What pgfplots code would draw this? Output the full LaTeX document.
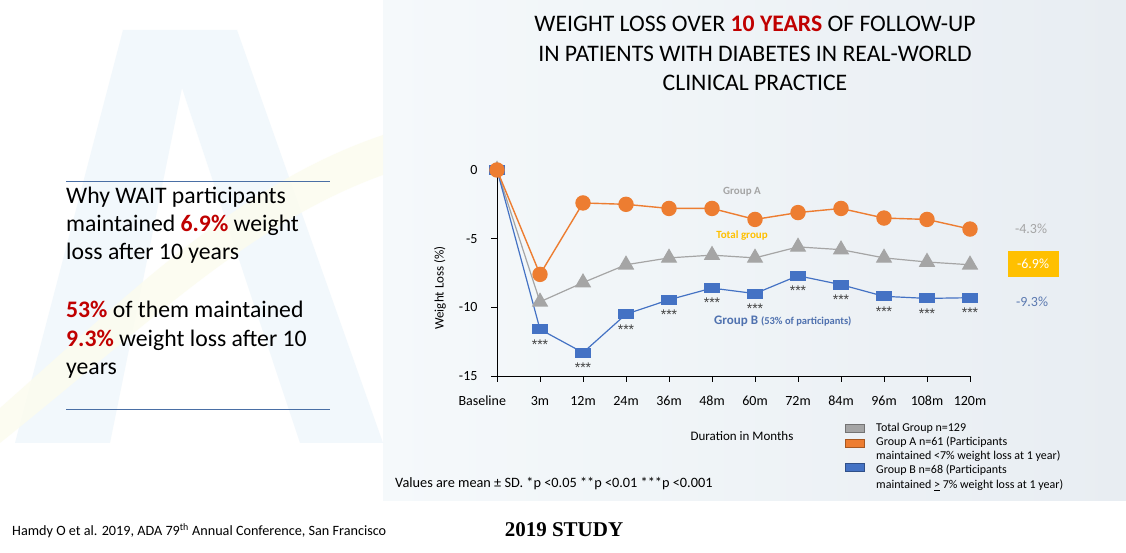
\documentclass[border=0pt]{standalone}
\usepackage{pgfplots}
\pgfplotsset{compat=1.18}
\usepackage{fontspec}
\setmainfont{Carlito}
\newfontfamily\studyfont{Liberation Serif}
\newfontfamily\astfont{Liberation Sans}
\definecolor{orA}{HTML}{ED7D31}
\definecolor{grT}{HTML}{A5A5A5}
\definecolor{blB}{HTML}{4472C4}
\definecolor{redT}{HTML}{C00000}
\definecolor{goldT}{HTML}{FFC000}
\definecolor{lineL}{HTML}{4A6FA5}
\definecolor{grpB}{HTML}{4F71AF}
\definecolor{lblB}{HTML}{5B79B0}
\definecolor{panelL}{HTML}{F5F9FB}
\definecolor{panelR}{HTML}{E8EDF2}
\definecolor{logoB}{HTML}{F2F8FC}
\definecolor{logoY}{HTML}{FCFCEE}
\begin{document}
\begin{tikzpicture}[x=1pt,y=1pt]
\fill[white] (0,0) rectangle (1126,553);
\useasboundingbox (0,0) rectangle (1126,553);
% background panel
\shade[left color=panelL, right color=panelR] (383,52) rectangle (1126,553);
% faint logo
\fill[logoB] (15,110) -- (123,523) -- (237,523) -- (383,110) -- (300,110) -- (182,465) -- (110,110) -- cycle;
\fill[logoY, opacity=0.8] (0,110) .. controls (150,230) and (250,330) .. (383,378) -- (383,418) .. controls (240,370) and (130,260) .. (0,145) -- cycle;
% left text
\draw[lineL, line width=0.8pt] (66,372) -- (330,372);
\draw[lineL, line width=0.8pt] (66,144) -- (330,144);
\begin{scope}[every node/.style={anchor=base west, inner sep=0pt, font=\fontsize{23.7}{28}\selectfont}]
\node at (66,349) {Why WAIT participants};
\node at (66,321) {maintained \textcolor{redT}{\textbf{6.9\%}} weight};
\node at (66,293) {loss after 10 years};
\node at (66,235) {\textcolor{redT}{\textbf{53\%}} of them maintained};
\node at (66,206) {\textcolor{redT}{\textbf{9.3\%}} weight loss after 10};
\node at (66,178) {years};
\end{scope}
% title
\begin{scope}[every node/.style={inner sep=0pt, font=\fontsize{23.7}{28}\selectfont}]
\node at (755,529) {WEIGHT LOSS OVER \textcolor{redT}{\textbf{10 YEARS}} OF FOLLOW-UP};
\node at (755,499) {IN PATIENTS WITH DIABETES IN REAL-WORLD};
\node at (755,470) {CLINICAL PRACTICE};
\end{scope}
\begin{axis}[
 at={(497pt,177pt)}, anchor=south west, scale only axis, width=473pt, height=206pt,
 xmin=0, xmax=11, ymin=-15, ymax=0, clip=false,
 axis x line*=bottom, axis y line*=left,
 axis line style={black, line width=0.8pt},
 xtick={0,...,11},
 xticklabels={\makebox[77pt][l]{Baseline},3m,12m,24m,36m,48m,60m,72m,84m,96m,108m,120m},
 ytick={-15,-10,-5,0}, yticklabels={-15,-10,-5,0},
 tick align=outside, major tick length=6pt, tick style={black, line width=0.8pt},
 ticklabel style={font=\fontsize{14}{16}\selectfont},
 xticklabel style={text height=10pt, text depth=3pt, yshift=-10pt},
 yticklabel style={xshift=-10pt},
]
\addplot[grT, line width=1.2pt, mark=triangle*, mark size=8.3pt, mark options={fill=grT, draw=grT}]
 coordinates {(0,0) (1,-9.6) (2,-8.2) (3,-6.9) (4,-6.4) (5,-6.2) (6,-6.4) (7,-5.6) (8,-5.8) (9,-6.4) (10,-6.7) (11,-6.9)};
\addplot[blB, line width=1.2pt, mark=square*, mark size=7.2pt, mark options={fill=blB, draw=blB, yscale=0.62}]
 coordinates {(0,0) (1,-11.6) (2,-13.3) (3,-10.5) (4,-9.45) (5,-8.6) (6,-9.0) (7,-7.7) (8,-8.35) (9,-9.2) (10,-9.35) (11,-9.3)};
\addplot[orA, line width=1.4pt, mark=*, mark size=7pt, mark options={fill=orA, draw=orA}]
 coordinates {(0,0) (1,-7.6) (2,-2.4) (3,-2.5) (4,-2.8) (5,-2.8) (6,-3.6) (7,-3.1) (8,-2.8) (9,-3.5) (10,-3.6) (11,-4.3)};
\addplot[draw=none, mark=none, nodes near coords={***},
 every node near coord/.style={anchor=center, yshift=-15pt, inner sep=0pt, font=\astfont\fontsize{14}{14}\selectfont, text=black!75}]
 coordinates {(1,-11.6) (2,-13.3) (3,-10.5) (4,-9.45) (5,-8.6) (6,-9.0) (7,-7.7) (8,-8.35) (9,-9.2) (10,-9.35) (11,-9.3)};
\end{axis}
% axis label texts
\node[rotate=90, font=\fontsize{13}{15}\selectfont] at (440,265) {Weight Loss (\%)};
\node[font=\fontsize{13}{15}\selectfont] at (742,117) {Duration in Months};
\node[anchor=west, inner sep=0pt, font=\fontsize{14.3}{16}\selectfont] at (395,69) {Values are mean ± SD. *p <0.05 **p <0.01 ***p <0.001};
% in-chart annotations
\node[text=grT, font=\bfseries\fontsize{11}{12}\selectfont] at (742,361) {Group A};
\node[text=goldT, font=\bfseries\fontsize{11}{12}\selectfont] at (742,317) {Total group};
\node[anchor=west, inner sep=0pt, text=grpB, font=\bfseries\fontsize{13}{14}\selectfont] at (714,232) {Group B {\fontsize{10.5}{12}\selectfont(53\% of participants)}};
% right labels
\node[text=grT, font=\fontsize{14}{16}\selectfont] at (1031,324) {-4.3\%};
\fill[goldT] (1008,276) rectangle (1059,302);
\node[text=white, font=\fontsize{14}{16}\selectfont] at (1033,289) {-6.9\%};
\node[text=lblB, font=\fontsize{14}{16}\selectfont] at (1032,251) {-9.3\%};
% legend
\filldraw[fill=grT, draw=black!55, line width=0.6pt] (845,121) rectangle (864,129);
\filldraw[fill=orA, draw=orA!70!black, line width=0.6pt] (845,106) rectangle (864,114);
\filldraw[fill=blB, draw=blB!70!black, line width=0.6pt] (845,82) rectangle (864,90);
\begin{scope}[every node/.style={anchor=west, inner sep=0pt, font=\fontsize{12}{14}\selectfont}]
\node at (876,125) {Total Group n=129};
\node at (876,111) {Group A n=61 (Participants};
\node at (876,97) {maintained <7\% weight loss at 1 year)};
\node at (876,83) {Group B n=68 (Participants};
\node at (876,68) {maintained \underline{>} 7\% weight loss at 1 year)};
\end{scope}
% footer
\node[anchor=west, inner sep=0pt, font=\fontsize{14.2}{16}\selectfont] at (12,22) {Hamdy O et al. 2019, ADA 79\textsuperscript{th} Annual Conference, San Francisco};
\node[font=\studyfont\bfseries\fontsize{21}{24}\selectfont] at (564,23) {2019 STUDY};
\end{tikzpicture}
\end{document}
